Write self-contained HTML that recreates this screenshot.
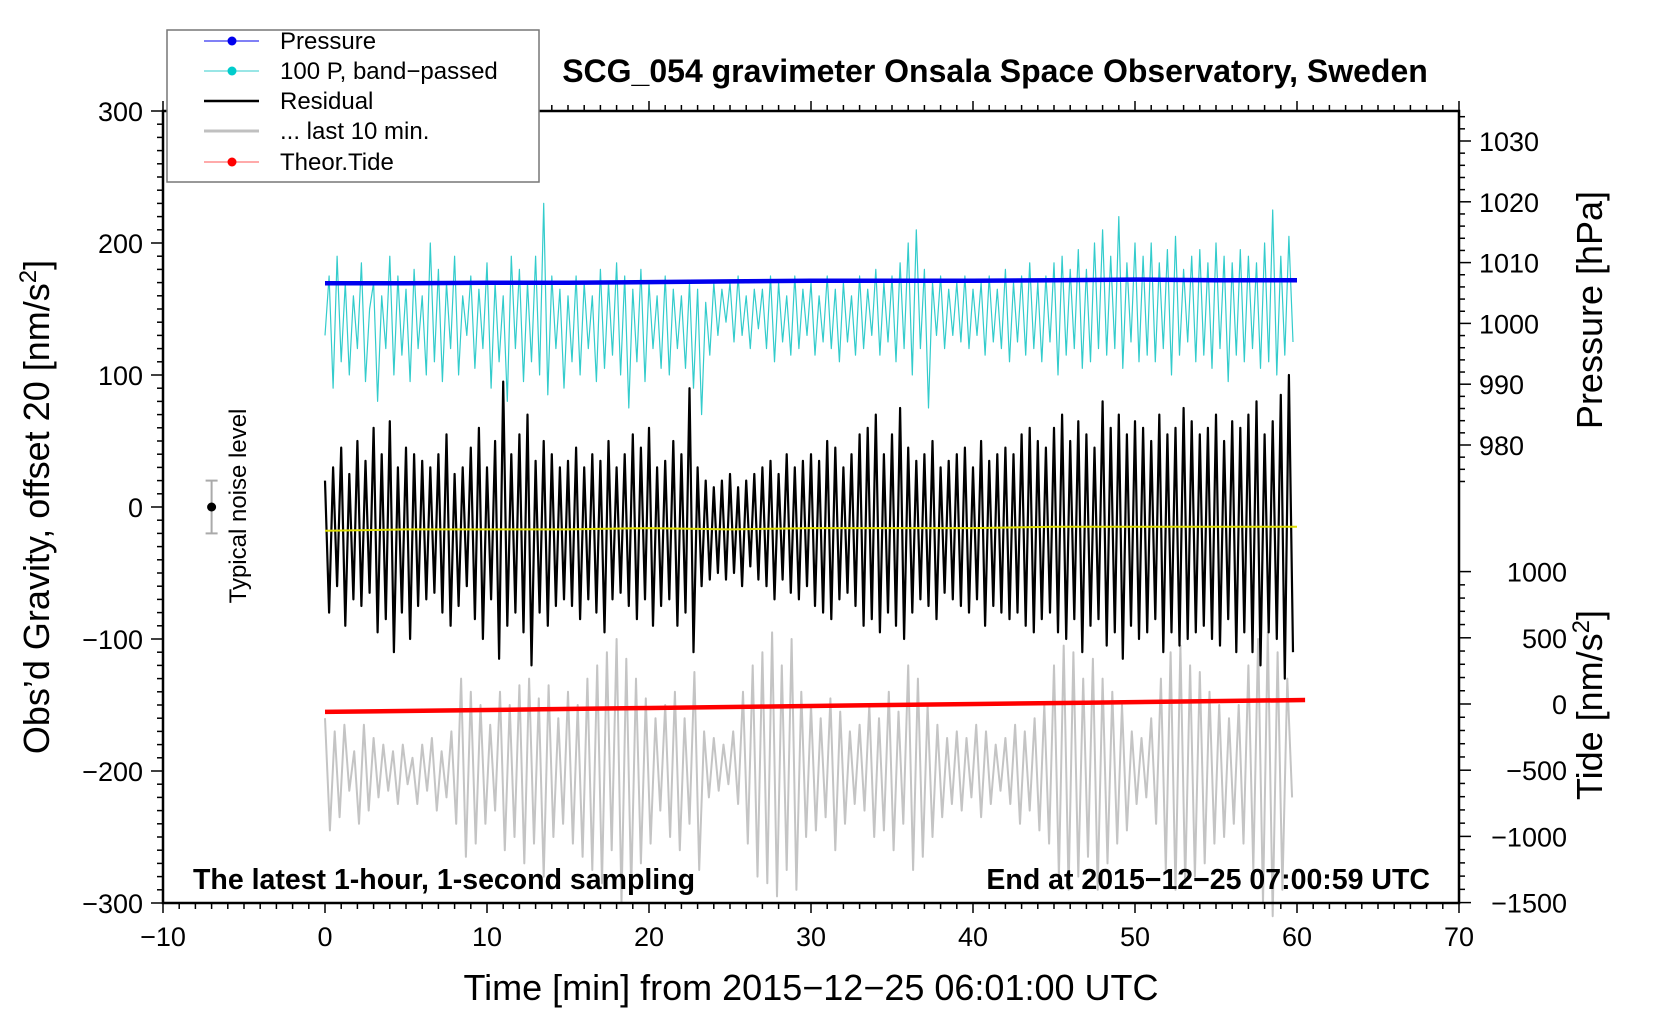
<!DOCTYPE html>
<html><head><meta charset="utf-8"><style>
body{margin:0;background:#fff;}
svg{display:block;font-family:"Liberation Sans",Arial,sans-serif;}
</style></head><body>
<svg id="c" width="1660" height="1020" viewBox="0 0 1660 1020"></svg>
<script>
const grayVals=[-160,-245,-170,-235,-165,-215,-185,-240,-165,-230,-175,-220,-180,-215,-185,-225,-180,-210,-190,-225,-180,-215,-175,-230,-185,-220,-170,-240,-130,-265,-140,-255,-150,-240,-165,-230,-140,-260,-150,-250,-135,-270,-130,-255,-145,-280,-135,-250,-160,-240,-140,-255,-150,-265,-130,-275,-120,-285,-110,-260,-100,-300,-115,-290,-130,-270,-145,-255,-160,-230,-150,-250,-140,-260,-160,-240,-125,-275,-170,-220,-175,-215,-180,-210,-170,-225,-140,-255,-120,-280,-110,-285,-95,-295,-120,-275,-100,-290,-140,-250,-150,-245,-160,-235,-145,-260,-155,-240,-170,-225,-165,-230,-150,-250,-160,-245,-140,-260,-155,-240,-120,-275,-130,-265,-150,-250,-165,-235,-175,-225,-170,-230,-175,-220,-165,-235,-170,-225,-180,-215,-175,-225,-165,-240,-170,-230,-160,-245,-150,-255,-120,-280,-105,-290,-110,-280,-130,-265,-115,-290,-130,-270,-140,-255,-150,-245,-170,-225,-175,-220,-160,-240,-130,-275,-110,-290,-105,-285,-120,-280,-125,-270,-140,-255,-150,-250,-160,-240,-150,-255,-120,-275,-100,-300,-95,-310,-110,-290,-130,-220];
const residualVals=[20,-80,30,-60,45,-90,25,-70,50,-75,35,-65,60,-95,40,-85,65,-110,30,-80,45,-100,40,-75,35,-70,30,-65,40,-80,55,-90,25,-75,30,-60,45,-85,60,-100,30,-70,50,-115,95,-90,40,-80,55,-95,70,-120,35,-80,50,-90,40,-75,30,-70,35,-75,45,-85,30,-70,40,-80,35,-95,50,-70,30,-65,40,-75,55,-85,45,-70,60,-90,30,-75,35,-70,50,-90,40,-80,90,-110,30,-60,20,-55,15,-50,20,-55,25,-50,15,-60,20,-45,25,-55,30,-60,35,-70,25,-55,40,-65,30,-70,35,-60,40,-75,35,-80,50,-85,45,-70,30,-65,40,-75,55,-90,60,-85,70,-95,40,-80,55,-90,75,-100,45,-80,35,-70,40,-75,50,-85,30,-65,35,-70,40,-75,45,-80,30,-70,50,-90,35,-75,40,-80,45,-85,40,-80,55,-90,60,-95,50,-85,45,-80,60,-95,70,-100,50,-85,65,-110,55,-90,45,-85,80,-105,60,-95,70,-115,55,-90,65,-100,60,-95,50,-85,70,-110,55,-95,60,-105,75,-100,65,-95,55,-90,60,-100,70,-105,50,-85,65,-110,60,-95,70,-110,80,-120,55,-95,65,-100,85,-130,100,-110];
const cyanVals=[130,175,90,190,110,170,100,160,120,185,95,150,170,80,160,120,190,100,175,115,165,95,180,120,160,100,200,110,180,95,170,120,190,100,160,130,175,105,165,120,185,90,170,110,160,80,190,120,180,95,170,110,190,100,230,85,175,120,165,90,160,110,175,100,170,120,160,95,180,105,170,115,185,100,175,75,165,110,180,95,170,120,160,105,175,100,165,120,160,105,170,90,165,70,155,115,170,130,165,140,170,125,175,130,160,120,165,135,165,120,175,110,170,125,160,115,175,120,165,130,170,115,160,125,175,120,165,110,170,125,160,115,175,120,165,130,180,115,170,125,175,110,185,120,200,100,210,120,180,75,170,130,175,120,165,130,170,125,175,120,165,130,170,115,175,125,165,120,180,110,170,125,175,115,185,120,170,110,175,125,185,100,190,115,180,120,195,105,180,110,200,120,210,115,190,120,220,105,185,125,200,110,190,115,200,110,185,120,195,100,205,115,180,125,190,110,195,115,185,105,200,120,190,95,185,115,195,110,190,120,185,105,200,110,225,100,190,115,205,125];
const pressureVals=[1006.6,1006.6,1006.7,1006.7,1006.8,1006.9,1007.0,1007.0,1007.0,1007.1,1007.2,1007.1,1007.1];
const yellowVals=[-18,-17,-17,-17,-16,-17,-16,-16,-16,-15,-15,-15,-15];
const tideTimes=[0,6.7,13.4,20.1,26.8,33.5,40.2,46.9,53.6,60.5];
const tideVals=[-60,-50,-40,-30,-20,-10,0,10,20,30];
const xTicks=[-10,0,10,20,30,40,50,60,70];
const yTicks=[300,200,100,0,-100,-200,-300];
const pTicks=[1030,1020,1010,1000,990,980];
const tTicks=[1000,500,0,-500,-1000,-1500];

const L=163,R=1459,T=111,B=903;
const X=t=>L+(t+10)*(R-L)/80;
const Y=v=>T+(300-v)*(B-T)/600;
const YP=p=>141+(1030-p)*6.08;
const YT=v=>704-v*0.1324;
const svg=document.getElementById('c');
const NS='http://www.w3.org/2000/svg';
function mk(tag,attrs,parent){const e=document.createElementNS(NS,tag);for(const k in attrs)e.setAttribute(k,attrs[k]);(parent||svg).appendChild(e);return e;}
function txt(s,attrs){const e=mk('text',attrs);e.textContent=s;return e;}
function line(vals,step,fy,col,w,name){
 const d=vals.map((v,i)=>(i?'L':'M')+X(i*step).toFixed(1)+','+fy(v).toFixed(1)).join('');
 const p=mk('path',{d:d,fill:'none',stroke:col,'stroke-width':w,'stroke-linejoin':'round'});
 
 
 return p;
}
line(grayVals,0.3,Y,'#c4c4c4',2,'last-10-min-series');
line(cyanVals,0.25,Y,'#33cccc',1.2,'band-passed-pressure-series');
line(pressureVals,5,YP,'#0000ee',4.5,'pressure-series');
line(residualVals,0.25,Y,'#000',2.2,'residual-series');
line(yellowVals,5,Y,'#dddd00',2,'residual-mean-series');
{const d=tideVals.map((v,i)=>(i?'L':'M')+X(tideTimes[i]).toFixed(1)+','+YT(v).toFixed(1)).join('');
 const p=mk('path',{d:d,fill:'none',stroke:'#ff0000','stroke-width':4.5});
 
 }

const fr=mk('rect',{x:L,y:T,width:R-L,height:B-T,fill:'none',stroke:'#000','stroke-width':2.5});


for(let t=-10;t<=70;t++){const maj=t%10===0,len=maj?10:6;
 mk('line',{x1:X(t),x2:X(t),y1:B,y2:B+len,stroke:'#000','stroke-width':1.5});
 mk('line',{x1:X(t),x2:X(t),y1:T,y2:T-len,stroke:'#000','stroke-width':1.5});}
xTicks.forEach(t=>{const e=txt(String(t).replace('-','\u2212'),{x:X(t),y:B+43,'font-size':27,'text-anchor':'middle'});
 
 });
for(let v=-300;v<=300;v+=10){const maj=v%100===0;mk('line',{x1:L-(maj?12:6),x2:L,y1:Y(v),y2:Y(v),stroke:'#000','stroke-width':1.5});}
yTicks.forEach(v=>{const e=txt(String(v).replace('-','\u2212'),{x:L-20,y:Y(v)+10,'font-size':27,'text-anchor':'end'});
 
 });
for(let p=1034;p>=974;p-=2){const maj=p%10===0;mk('line',{x1:R,x2:R+(maj?12:6),y1:YP(p),y2:YP(p),stroke:'#000','stroke-width':1.5});}
pTicks.forEach(p=>{const e=txt(String(p),{x:R+20,y:YP(p)+10,'font-size':27});
 
 });
for(let v=-1500;v<=1000;v+=100){const maj=v%500===0;mk('line',{x1:R,x2:R+(maj?12:6),y1:YT(v),y2:YT(v),stroke:'#000','stroke-width':1.5});}
tTicks.forEach(v=>{const e=txt(String(v).replace('-','\u2212'),{x:R+108,y:YT(v)+10,'font-size':27,'text-anchor':'end'});
 
 });
mk('line',{x1:X(-7),x2:X(-7),y1:Y(20),y2:Y(-20),stroke:'#aaa','stroke-width':2});
mk('line',{x1:X(-7)-6,x2:X(-7)+6,y1:Y(20),y2:Y(20),stroke:'#aaa','stroke-width':2});
mk('line',{x1:X(-7)-6,x2:X(-7)+6,y1:Y(-20),y2:Y(-20),stroke:'#aaa','stroke-width':2});
mk('circle',{cx:X(-7),cy:Y(0),r:4.5,fill:'#000'});

svg.insertAdjacentHTML('beforeend',`
<text x="995" y="82" font-size="32" font-weight="bold" text-anchor="middle">SCG_054 gravimeter Onsala Space Observatory, Sweden</text>
<text transform="translate(246,506) rotate(-90)" font-size="24" text-anchor="middle">Typical noise level</text>
<text x="193" y="889" font-size="28.5" font-weight="bold">The latest 1‑hour, 1‑second sampling</text>
<text x="1430" y="889" font-size="28.5" font-weight="bold" text-anchor="end">End at 2015−12−25 07:00:59 UTC</text>
<text x="811" y="1000" font-size="36" text-anchor="middle">Time [min] from 2015−12−25 06:01:00 UTC</text>
<text transform="translate(49,507) rotate(-90)" font-size="36" text-anchor="middle">Obs’d Gravity, offset 20 [nm/s<tspan font-size="24" dy="-13">2</tspan><tspan dy="13">]</tspan></text>
<text transform="translate(1602,310) rotate(-90)" font-size="36" text-anchor="middle">Pressure [hPa]</text>
<text transform="translate(1602,705) rotate(-90)" font-size="36" text-anchor="middle">Tide [nm/s<tspan font-size="24" dy="-13">2</tspan><tspan dy="13">]</tspan></text>
<g>
<rect x="167" y="30" width="372" height="152" fill="#fff" stroke="#777" stroke-width="1.5"/>
<line x1="204" x2="259" y1="41" y2="41" stroke="#0000ee"/><circle cx="232" cy="41" r="4.5" fill="#0000ee"/>
<text x="280" y="49" font-size="24">Pressure</text>
<line x1="204" x2="259" y1="71" y2="71" stroke="#33cccc"/><circle cx="232" cy="71" r="4.5" fill="#00cccc"/>
<text x="280" y="79" font-size="24">100 P, band−passed</text>
<line x1="204" x2="259" y1="101" y2="101" stroke="#000" stroke-width="2.5"/>
<text x="280" y="109" font-size="24">Residual</text>
<line x1="204" x2="259" y1="131" y2="131" stroke="#c0c0c0" stroke-width="3"/>
<text x="280" y="139" font-size="24">... last 10 min.</text>
<line x1="204" x2="259" y1="162" y2="162" stroke="#ff5555"/><circle cx="232" cy="162" r="4.5" fill="#ff0000"/>
<text x="280" y="170" font-size="24">Theor.Tide</text>
</g>`);
</script>
</body></html>
